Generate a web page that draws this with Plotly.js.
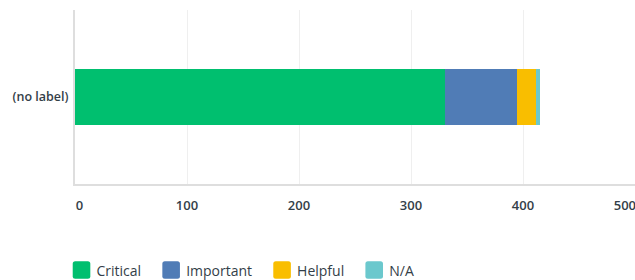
<!DOCTYPE html>
<html>
<head>
<meta charset="utf-8">
<script src="https://cdn.plot.ly/plotly-3.0.1.min.js"></script>
<style>html,body{margin:0;padding:0;background:#fff;}#chart{width:635px;height:280px;}</style>
</head>
<body>
<div id="chart"></div>
<script>
const categories = ["(no label)"];
const seriesNames = ["Critical", "Important", "Helpful", "N/A"];
const critical = [330];
const important = [65];
const helpful = [17];
const na = [3];
const colors = ["#00BF6F", "#507CB6", "#F9BE00", "#6BC8CD"];
const xTickVals = [0, 100, 200, 300, 400, 500];
const xTickText = ["0", "100", "200", "300", "400", "500"];

const NB = "\u00a0";
// edge labels nudged inward so they stay inside the picture, as in the reference
const xTickShown = xTickText.map((t, i) =>
  i === 0 ? NB + NB + "\u2009" + t :
  i === xTickText.length - 1 ? t + NB.repeat(6) : t);

const values = [critical, important, helpful, na];
const traces = seriesNames.map((name, i) => ({
  type: "bar",
  orientation: "h",
  name: name,
  y: categories,
  x: values[i],
  marker: {color: colors[i], line: {width: 0}},
  hoverinfo: "x+name"
}));

const fontFam = "'Open Sans', sans-serif";
const layout = {
  width: 635, height: 280,
  margin: {l: 75, r: 0, t: 10, b: 96, pad: 0, autoexpand: false},
  barmode: "stack",
  bargap: 0.68,
  paper_bgcolor: "#fff",
  plot_bgcolor: "#fff",
  font: {family: fontFam, color: "#333E48", size: 13},
  xaxis: {
    range: [0, 500],
    tickvals: xTickVals,
    ticktext: xTickShown,
    showgrid: true, gridcolor: "#EFEFEF", gridwidth: 1,
    showline: true, linecolor: "#DEDEDE", linewidth: 2,
    zeroline: false,
    ticks: "",
    ticklabelstandoff: 8,
    ticklabeloverflow: "allow",
    tickfont: {family: fontFam, size: 13, color: "#333E48", weight: 600},
    fixedrange: true
  },
  yaxis: {
    type: "category",
    showgrid: false,
    showline: true, linecolor: "#DEDEDE", linewidth: 2,
    zeroline: false,
    ticks: "",
    ticklabelstandoff: 2,
    tickfont: {family: fontFam, size: 12.5, color: "#333E48", weight: 600},
    fixedrange: true
  },
  showlegend: true,
  legend: {
    orientation: "h",
    xref: "container", yref: "container",
    x: 0.089, xanchor: "left",
    y: 0.0, yanchor: "bottom",
    traceorder: "normal",
    font: {family: fontFam, size: 14, color: "#333E48"},
    itemclick: false, itemdoubleclick: false
  }
};

function styleLegend(gd) {
  const svg = gd.querySelector("svg.main-svg");
  const legend = gd.querySelector("g.legend");
  if (!legend) return;
  // move the legend row so its centre sits at the reference height
  const sb = svg.getBoundingClientRect();
  const items = legend.querySelectorAll("g.traces");
  let tTop = Infinity, tBot = -Infinity;
  items.forEach(it => {
    const t = it.querySelector("text.legendtext");
    if (t) { const b = t.getBoundingClientRect(); tTop = Math.min(tTop, b.top); tBot = Math.max(tBot, b.bottom); }
  });
  const curMid = (tTop + tBot) / 2 - sb.top;
  const dy = 270 - curMid;
  const tr = legend.getAttribute("transform") || "";
  const mm = /translate\(\s*([-\d.e]+)[ ,]+([-\d.e]+)\s*\)/.exec(tr);
  if (mm) legend.setAttribute("transform", `translate(${parseFloat(mm[1])},${parseFloat(mm[2]) + dy})`);
  // larger rounded swatches, placed just before each label
  items.forEach(item => {
    const text = item.querySelector("text.legendtext");
    const path = item.querySelector(".legendpoints path");
    if (!text || !path) return;
    const tb = text.getBoundingClientRect();
    const m = path.getScreenCTM();
    const cx = (tb.left - 15) - m.e;
    const cy = ((tb.top + tb.bottom) / 2) - m.f;
    const h = 8.8, r = 2.5;
    const x0 = cx - h, x1 = cx + h, y0 = cy - h, y1 = cy + h;
    const d = `M${x0 + r},${y0}H${x1 - r}Q${x1},${y0} ${x1},${y0 + r}V${y1 - r}Q${x1},${y1} ${x1 - r},${y1}H${x0 + r}Q${x0},${y1} ${x0},${y1 - r}V${y0 + r}Q${x0},${y0} ${x0 + r},${y0}Z`;
    path.setAttribute("d", d);
  });
}

Plotly.newPlot("chart", traces, layout, {displayModeBar: false, staticPlot: true})
  .then(gd => styleLegend(gd));
</script>
</body>
</html>
